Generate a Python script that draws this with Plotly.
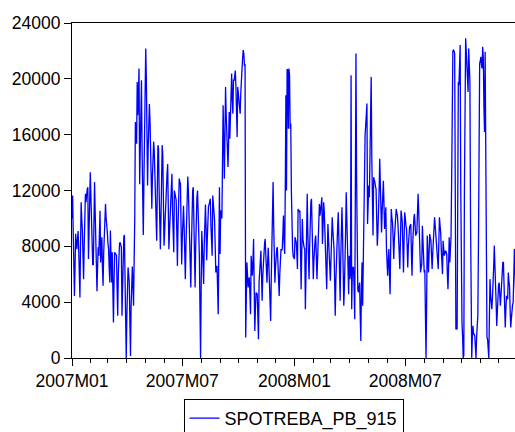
import pandas as pd
import plotly.graph_objects as go

# Daily consumption, one list per month
jan07 = [10000, 11640, 9000, 6500, 4450, 6500, 8900, 8200, 7800, 8500,
         9100, 7800, 6000, 4330, 8000, 11160, 10000, 9200, 7400, 5650,
         8000, 10500, 11760, 11160, 12000, 12100, 12240, 7090, 9000, 11040, 13300]
feb07 = [11640, 9000, 6700, 6700, 6700, 9500, 12600, 10500, 9000, 6500,
         4790, 6500, 7930, 7330, 8800, 10540, 6850, 7500, 8650, 6500,
         5170, 7500, 8650, 10000, 11040, 10000, 9600, 9000]
mar07 = [8200, 7810, 6500, 5410, 9130, 7000, 5410, 7570, 5000, 2540,
         5500, 7570, 7500, 7450, 7330, 5000, 3020, 6000, 8170, 8200,
         8290, 8100, 7930, 3020, 6000, 8530, 8700, 8810, 6370, 3000, 0]
apr07 = [3000, 6370, 6490, 6000, 5410, 2500, 150, 3740, 5500, 6560,
         5200, 3740, 7000, 10060, 16910, 16000, 15350, 19780, 17390, 19000,
         20740, 12450, 16000, 19780, 19900, 14970, 11000, 8810, 12500, 16190]
may07 = [19000, 22180, 20000, 16000, 12360, 15000, 17000, 18200, 17000, 15000,
         12500, 10700, 13000, 15000, 15500, 14800, 13500, 11000, 9500, 8400,
         12000, 15250, 15000, 12000, 9500, 7800, 10000, 13000, 15250, 14500, 11000]
jun07 = [8050, 9000, 10500, 11600, 12500, 13200, 13900, 11000, 7800, 9000,
         10500, 11640, 12500, 13200, 10500, 8500, 7570, 12000, 11800, 11500,
         11300, 9000, 6600, 9500, 12800, 12860, 12600, 12500, 9500, 6700]
jul07 = [8500, 10000, 10900, 9500, 7500, 5650, 8000, 10500, 12000, 13000,
         12000, 10200, 8500, 6500, 5050, 8000, 11000, 12000, 12240, 9000,
         6500, 5050, 8000, 10900, 11500, 12000, 11000, 9000, 7330, 4000, 0]
aug07 = [5000, 9100, 8000, 6500, 5300, 8000, 10000, 11000, 9500, 7000,
         8500, 10000, 10900, 11000, 11200, 11400, 9500, 8000, 7330, 11640,
         11000, 10500, 9840, 8000, 6130, 6400, 6600, 5000, 3140, 8000, 12240]
sep07 = [7450, 10560, 10500, 10000, 14000, 18100, 15500, 12840, 16000, 19420,
         17500, 15950, 15000, 13680, 15500, 17630, 15700, 18000, 19500, 20380,
         18500, 17500, 19900, 19900, 20200, 20600, 19420, 17500, 15830, 19420]
oct07 = [19000, 18600, 18000, 17500, 19000, 20200, 20980, 21500, 22060, 21800,
         20980, 21000, 1460, 5000, 6850, 6000, 5050, 5500, 5770, 4500,
         3140, 7330, 6500, 5900, 7000, 8530, 5000, 1940, 3500, 4700, 4600]
nov07 = [4600, 3000, 1340, 5400, 6500, 7000, 7690, 6000, 4100, 5800,
         7090, 7800, 8200, 8530, 7690, 6500, 5400, 6800, 7900, 6800,
         5650, 4000, 2660, 5650, 8000, 10500, 12600, 9500, 7500, 5400]
dec07 = [6500, 7810, 7810, 7930, 6500, 5500, 4450, 6000, 7810, 7810,
         7700, 7810, 8800, 10200, 8500, 7450, 12000, 18830, 12000, 20700,
         20600, 16430, 20740, 20260, 16430, 16800, 12000, 7800, 7800, 7300, 7090]
jan08 = [7090, 8650, 8500, 8290, 7500, 6370, 10680, 10600, 10500, 10560,
         7500, 4930, 7500, 9960, 8500, 7930, 7900, 7810, 3500, 6000,
         9500, 11760, 9000, 7000, 5650, 8000, 10000, 11160, 11400, 9500, 7000]
feb08 = [5650, 7000, 8290, 8500, 8770, 6500, 5650, 7000, 8770, 10000,
         11040, 10200, 10500, 11000, 11520, 8170, 9500, 11160, 10500, 9250,
         7500, 6000, 4930, 7500, 9600, 8500, 7810, 6500, 5530]
mar08 = [8000, 9500, 10080, 9200, 8410, 7810, 5500, 3020, 5500, 7330,
         8500, 9500, 10440, 8000, 6000, 4100, 7000, 8650, 10800, 9000,
         6500, 3740, 5000, 6490, 9000, 11880, 9500, 7090, 5500, 4570, 7330]
apr08 = [5650, 6000, 20260, 3500, 6000, 6490, 6490, 5000, 2780, 12000,
         21820, 13000, 4930, 4930, 4700, 5000, 5400, 3000, 1220, 5000,
         6850, 3740, 8000, 12000, 15000, 16000, 16670, 17500, 18230, 9600]
may08 = [12360, 12360, 11520, 14000, 18000, 20140, 14270, 11000, 8770, 12950,
         12800, 12600, 12300, 12100, 10000, 8050, 9000, 10200, 12000, 14270,
         11520, 10000, 9000, 10500, 11500, 12700, 11000, 9250, 10000, 10800, 7930]
jun08 = [7000, 5900, 7000, 7810, 6000, 4570, 8000, 10680, 10000, 9720,
         8500, 7090, 8500, 9720, 10200, 10680, 10400, 10200, 9500, 8770,
         7500, 6370, 8500, 10560, 10200, 9720, 8000, 6130, 8500, 10440]
jul08 = [10000, 9500, 9250, 8000, 6490, 8000, 9250, 9400, 9500, 9600,
         7500, 5900, 8000, 9600, 10000, 10320, 9500, 8770, 8900, 9000,
         10500, 11760, 10500, 9250, 7500, 6130, 6500, 6730, 9480, 8000, 6610]
aug08 = [6130, 6300, 3000, 0, 4000, 8770, 7500, 6130, 7500, 8890,
         8600, 8410, 7500, 6370, 7500, 8290, 9000, 10080, 9500, 9000,
         8400, 7810, 7000, 6370, 8000, 10080, 9500, 9000, 7810, 6500, 6010]
sep08 = [8400, 7800, 7330, 7500, 7690, 7600, 7450, 6000, 4930, 6500,
         8650, 6850, 7800, 8650, 12600, 21340, 22000, 22060, 22000, 21800,
         12000, 2060, 2100, 2060, 12000, 19780, 19540, 21000, 22420, 12000]
oct08 = [5000, 2500, 1580, 0, 200, 12000, 20000, 22900, 22000, 21100,
         19500, 19060, 22180, 21000, 19780, 10000, 2000, 0, 1500, 2300,
         1700, 1700, 1580, 800, 0, 1500, 3020, 3020, 8000, 16910, 21100]
nov08 = [21300, 21580, 21000, 20740, 22300, 21500, 18000, 16190, 21940, 12000,
         1820, 1500, 1340, 500, 0, 3000, 5650, 4500, 4000, 3500,
         4300, 5170, 6500, 8050, 7000, 5900, 4000, 2300, 3500, 5050]
dec08 = [5200, 5400, 4500, 3740, 4500, 5400, 6000, 6850, 6850, 5000,
         3500, 2180, 3500, 4450, 4300, 4210, 6130, 5500, 5170, 3500,
         2180, 2800, 3500, 3800, 3980, 6000, 7810, 6500, 4000, 3000, 5000]

months = [jan07, feb07, mar07, apr07, may07, jun07, jul07, aug07, sep07, oct07, nov07, dec07,
          jan08, feb08, mar08, apr08, may08, jun08, jul08, aug08, sep08, oct08, nov08, dec08]
month_starts = pd.date_range("2007-01-01", periods=len(months), freq="MS")

dates, values = [], []
for start, vals in zip(month_starts, months):
    dates.extend(pd.date_range(start, periods=len(vals), freq="D"))
    values.extend(vals)

series_name = "SPOTREBA_PB_915"
y_ticks = [0, 4000, 8000, 12000, 16000, 20000, 24000]

font = dict(family="Liberation Sans, Arial, sans-serif", size=17.5, color="black")

fig = go.Figure()
fig.add_trace(go.Scatter(
    x=dates, y=values, mode="lines", name=series_name,
    line=dict(color="#0000FF", width=1.3),
))

fig.update_layout(
    width=515, height=432,
    margin=dict(l=72, r=0, t=23, b=74, autoexpand=False),
    paper_bgcolor="white", plot_bgcolor="white",
    font=font,
    showlegend=True,
    legend=dict(
        orientation="h", x=0.5, xanchor="center", y=-0.122, yanchor="top",
        bordercolor="black", borderwidth=1, bgcolor="white",
        font=dict(family=font["family"], size=18, color="black"),
    ),
)

fig.update_xaxes(
    range=["2007-01-01", "2008-12-28"],
    showgrid=False, zeroline=False,
    showline=True, linecolor="black", linewidth=1, mirror=True,
    ticks="outside", ticklen=7, tickcolor="black", tickwidth=1,
    tick0="2007-01-01", dtick="M6", tickformat="%YM%m",
    minor=dict(ticks="outside", ticklen=4, tickcolor="black", dtick="M1", showgrid=False),
)
fig.update_yaxes(
    range=[0, 24000],
    tickvals=y_ticks, ticktext=[str(v) for v in y_ticks],
    showgrid=False, zeroline=False,
    showline=True, linecolor="black", linewidth=1,
    ticks="outside", ticklen=7, tickcolor="black", tickwidth=1,
)

fig.write_html("out.html")
